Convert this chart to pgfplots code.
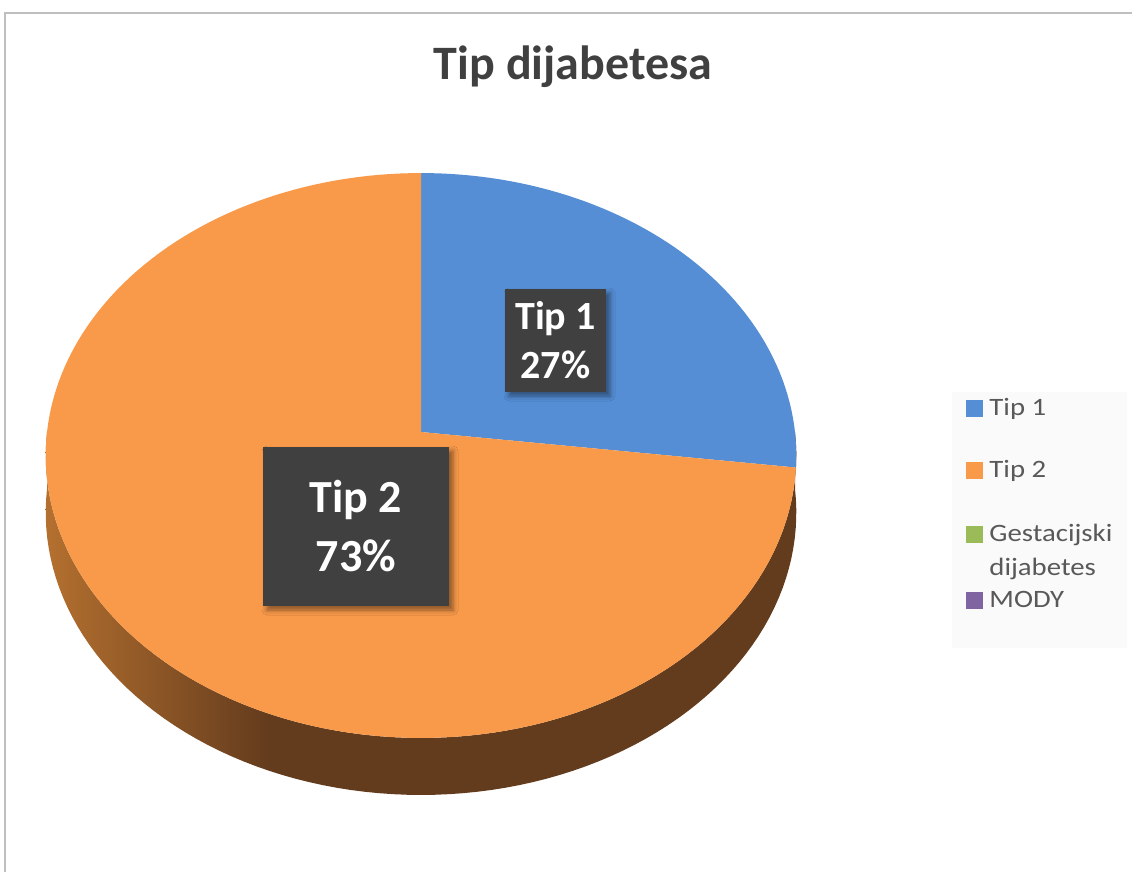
\documentclass[border=0pt]{standalone}
\usepackage{pgfplots}
\pgfplotsset{compat=1.18}
\usepackage{pgfplotstable}
\usepackage{fontspec}
\setmainfont{Carlito}
\newfontfamily\legendfont[FakeStretch=1.15]{Carlito}
\usetikzlibrary{shadows.blur}

\definecolor{tipA}{HTML}{558ED5}
\definecolor{tipB}{HTML}{F99A4A}
\definecolor{gest}{HTML}{9BBB59}
\definecolor{mody}{HTML}{8064A2}
\definecolor{sideL}{HTML}{B4702F}
\definecolor{sideD}{HTML}{633B1D}
\definecolor{lblbox}{HTML}{404040}
\definecolor{legtxt}{HTML}{595959}
\definecolor{titletxt}{HTML}{404040}
\definecolor{frame}{HTML}{BFBFBF}

\pgfdeclarehorizontalshading{pieside}{100bp}{color(0bp)=(sideL); color(25bp)=(sideL); color(40bp)=(sideD); color(100bp)=(sideD)}

% share of each type of diabetes, percent
\pgfplotstableread{
type share
1 27
2 73
3 0
4 0
}\diabetes

\pgfplotstablegetelem{0}{share}\of\diabetes \let\shareA\pgfplotsretval
\pgfplotstablegetelem{1}{share}\of\diabetes \let\shareB\pgfplotsretval
\pgfmathsetmacro\angA{360*\shareA/(\shareA+\shareB)}

\begin{document}
\begin{tikzpicture}[
  declare function={
    px(\t)=421+374*sin(\t)/(1+0.0832*cos(\t));
    py(\t)=432-280.5*cos(\t)/(1+0.0832*cos(\t));
  }]
\begin{axis}[
  width=566pt, height=436pt, scale only axis,
  xmin=0, xmax=1132, ymin=0, ymax=872, y dir=reverse,
  axis lines=none, clip=false,
]
  % side of the pie
  \addplot[shading=pieside, draw=none, variable=\s,
    samples at={0,2,...,180,181,183,...,361}]
    ({px((\s<180.5)*(270-\s)+(\s>180.5)*(\s-91))},
     {py((\s<180.5)*(270-\s)+(\s>180.5)*(\s-91))+57*(\s>180.5)}) -- cycle;
  % top of the slices
  \addplot[fill=tipA, draw=none, domain=0:\angA, samples=60, variable=\t]
    ({px(\t)},{py(\t)}) -- (axis cs:421,432) -- cycle;
  \addplot[fill=tipB, draw=none, domain=\angA:360, samples=150, variable=\t]
    ({px(\t)},{py(\t)}) -- (axis cs:421,432) -- cycle;

  % frame and title
  \draw[frame, line width=1pt] (axis cs:5,872) -- (axis cs:5,13) -- (axis cs:1132,13);
  \node[anchor=base, text=titletxt, font=\bfseries\fontsize{24}{28}\selectfont]
    at (axis cs:573,80) {Tip dijabetesa};

  % data labels
  \node[fill=lblbox, minimum width=50.5pt, minimum height=51.5pt, inner sep=0pt,
    blur shadow={shadow xshift=2pt, shadow yshift=-2pt, shadow blur radius=2.5pt, shadow opacity=45},
    text=white, align=center, font=\bfseries\fontsize{20}{24.5}\selectfont]
    at (axis cs:555.5,340.5) {Tip 1\\27\%};
  \node[fill=lblbox, minimum width=93pt, minimum height=79.5pt, inner sep=0pt,
    blur shadow={shadow xshift=2pt, shadow yshift=-2pt, shadow blur radius=2.5pt, shadow opacity=45},
    text=white, align=center, font=\bfseries\fontsize{23}{29.5}\selectfont]
    at (axis cs:356,526.5) {Tip 2\\73\%};

  % legend
  \fill[gray!4] (axis cs:952,392) rectangle (axis cs:1127,648);
  \fill[tipA] (axis cs:966,400) rectangle (axis cs:983,417);
  \fill[tipB] (axis cs:966,462) rectangle (axis cs:983,479);
  \fill[gest] (axis cs:966,526) rectangle (axis cs:983,543);
  \fill[mody] (axis cs:966,592) rectangle (axis cs:983,609);
  \begin{scope}[every node/.style={anchor=base west, inner sep=0pt, text=legtxt,
      font=\legendfont\fontsize{12.5}{15}\selectfont}]
    \node at (axis cs:989,415) {Tip 1};
    \node at (axis cs:989,477) {Tip 2};
    \node at (axis cs:989,541) {Gestacijski};
    \node at (axis cs:989,575) {dijabetes};
    \node at (axis cs:989,607) {MODY};
  \end{scope}
\end{axis}
\pgfresetboundingbox
\useasboundingbox (current axis.south west) rectangle (current axis.north east);
\end{tikzpicture}
\end{document}
